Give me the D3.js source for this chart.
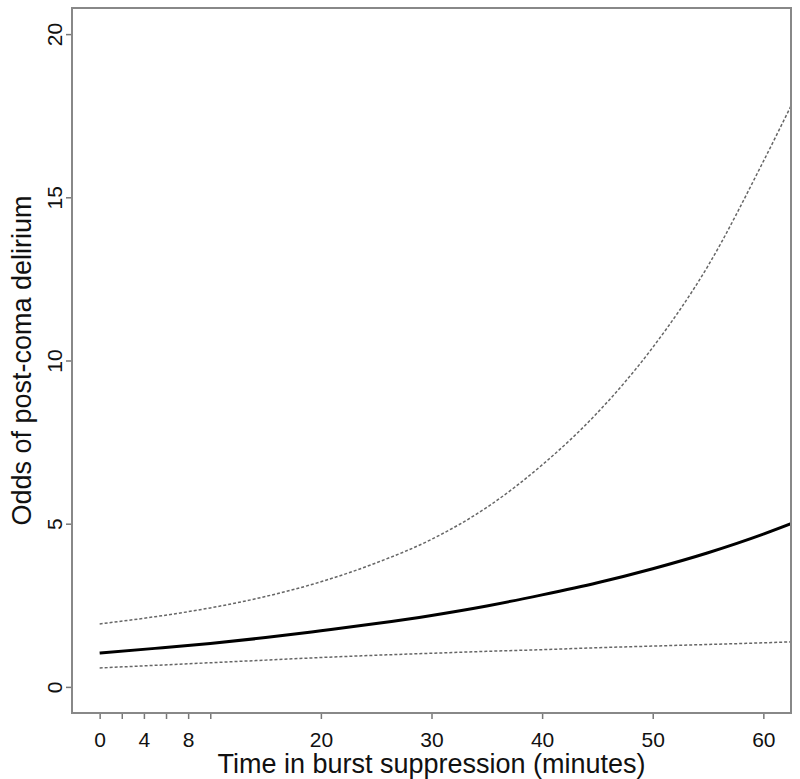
<!DOCTYPE html>
<html>
<head>
<meta charset="utf-8">
<script src="https://cdn.jsdelivr.net/npm/d3@7"></script>
<style>
  body { margin: 0; background: #fff; }
  text { font-family: "Liberation Sans", Arial, Helvetica, sans-serif; fill: #111; }
</style>
</head>
<body>
<div id="chart"></div>
<script>
// values
const minutes = [0, 5, 10, 15, 20, 25, 30, 35, 40, 45, 50, 55, 60, 62.5];
const odds    = [1.04, 1.18, 1.33, 1.51, 1.72, 1.94, 2.19, 2.48, 2.82, 3.19, 3.62, 4.11, 4.68, 5.0];
const upper   = [1.93, 2.15, 2.42, 2.77, 3.22, 3.80, 4.52, 5.50, 6.80, 8.40, 10.4, 12.9, 16.1, 17.8];
const lower   = [0.58, 0.66, 0.74, 0.82, 0.90, 0.97, 1.03, 1.09, 1.14, 1.20, 1.25, 1.30, 1.35, 1.38];

const xTicks = [0, 2, 4, 6, 8, 10, 20, 30, 40, 50, 60];
const xLabelled = [0, 4, 8, 20, 30, 40, 50, 60];
const yTicks = [0, 5, 10, 15, 20];

const width = 800, height = 779;
const plot = {left: 72, right: 791, top: 8, bottom: 713};

let svg = d3.select("#chart")
    .append("svg")
    .attr("width", width)
    .attr("height", height);

let x = d3.scaleLinear()
    .domain([-2.5, 62.5])
    .range([plot.left, plot.right]);

let y = d3.scaleLinear()
    .domain([-0.8, 20.8])
    .range([plot.bottom, plot.top]);

// x axis
let xAxis = svg.append("g")
    .attr("transform", `translate(0, ${plot.bottom})`)
    .call(d3.axisBottom(x)
        .tickValues(xTicks)
        .tickSize(6)
        .tickPadding(13)
        .tickFormat(d => xLabelled.includes(d) ? d : ""));
xAxis.select(".domain").remove();
xAxis.selectAll("line").attr("stroke", "#777").attr("stroke-width", 1.5);
xAxis.selectAll("text").style("font-size", "21px").attr("fill", "#111");

// y axis, labels turned like R does
let yAxis = svg.append("g")
    .attr("transform", `translate(${plot.left}, 0)`)
    .call(d3.axisLeft(y).tickValues(yTicks).tickSize(6));
yAxis.select(".domain").remove();
yAxis.selectAll("line").attr("stroke", "#777").attr("stroke-width", 1.5);
yAxis.selectAll("text")
    .attr("x", null)
    .attr("dy", null)
    .attr("transform", "translate(-10,0) rotate(-90)")
    .attr("text-anchor", "middle")
    .style("font-size", "21px")
    .attr("fill", "#111");

// clip for the curves
svg.append("clipPath").attr("id", "clip")
    .append("rect")
    .attr("x", plot.left).attr("y", plot.top)
    .attr("width", plot.right - plot.left)
    .attr("height", plot.bottom - plot.top);

let line = d3.line()
    .x(d => x(d[0]))
    .y(d => y(d[1]))
    .curve(d3.curveMonotoneX);

let curves = svg.append("g").attr("clip-path", "url(#clip)");

curves.append("path")
    .datum(d3.zip(minutes, upper))
    .attr("d", line)
    .attr("fill", "none")
    .attr("stroke", "#666")
    .attr("stroke-width", 1.5)
    .attr("stroke-dasharray", "3,2");

curves.append("path")
    .datum(d3.zip(minutes, lower))
    .attr("d", line)
    .attr("fill", "none")
    .attr("stroke", "#666")
    .attr("stroke-width", 1.5)
    .attr("stroke-dasharray", "3,2");

curves.append("path")
    .datum(d3.zip(minutes, odds))
    .attr("d", line)
    .attr("fill", "none")
    .attr("stroke", "#000")
    .attr("stroke-width", 3);

// box
svg.append("rect")
    .attr("x", plot.left).attr("y", plot.top)
    .attr("width", plot.right - plot.left)
    .attr("height", plot.bottom - plot.top)
    .attr("fill", "none")
    .attr("stroke", "#888")
    .attr("stroke-width", 2);

// axis titles
svg.append("text")
    .attr("x", (plot.left + plot.right) / 2)
    .attr("y", 773)
    .attr("text-anchor", "middle")
    .style("font-size", "27px")
    .text("Time in burst suppression (minutes)");

svg.append("text")
    .attr("transform", `translate(31, ${(plot.top + plot.bottom) / 2}) rotate(-90)`)
    .attr("text-anchor", "middle")
    .style("font-size", "27px")
    .text("Odds of post-coma delirium");
</script>
</body>
</html>
